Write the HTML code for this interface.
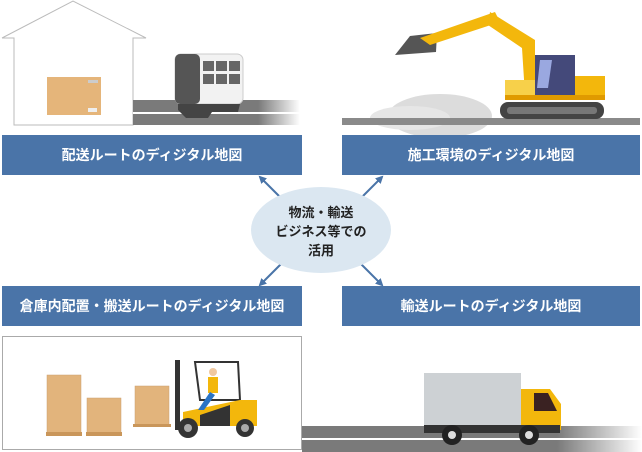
<!DOCTYPE html>
<html><head><meta charset="utf-8"><style>
html,body{margin:0;padding:0;background:#fff;}
body{width:642px;height:452px;position:relative;overflow:hidden;font-family:"Liberation Sans","Noto Sans CJK JP",sans-serif;}
.b{position:absolute;background:#4a74a8;color:#fff;font-size:14px;font-weight:bold;display:flex;align-items:center;justify-content:center;height:40px;}
</style></head><body>
<svg width="642" height="452" style="position:absolute;left:0;top:0">
<defs>
<linearGradient id="fade" x1="0" x2="1"><stop offset="0.75" stop-color="#7a7a7a"/><stop offset="1" stop-color="#7a7a7a" stop-opacity="0"/></linearGradient>
<marker id="ar" markerWidth="8" markerHeight="8" refX="6" refY="4" orient="auto" markerUnits="userSpaceOnUse"><path d="M0,0 L8,4 L0,8 Z" fill="#4a74a8"/></marker>
</defs>
<polyline points="2,38 73,1 146,38 133,38 133,125 14,125 14,38 2,38" fill="none" stroke="#bbb" stroke-width="1"/>
<rect x="47" y="77" width="54" height="38" fill="#e5b57a"/>
<rect x="88" y="80" width="10" height="3" fill="#ccc"/><rect x="88" y="108" width="9" height="4" fill="#eee"/>
<rect x="133" y="100" width="167" height="25" fill="url(#fade)"/>
<rect x="133" y="112" width="167" height="2" fill="#fff"/>
<rect x="175" y="54" width="68" height="50" rx="6" fill="#f2f2f2" stroke="#ccc"/>
<rect x="175" y="54" width="25" height="50" rx="5" fill="#555"/>
<g fill="#666"><rect x="203" y="61" width="11" height="10"/><rect x="216" y="61" width="11" height="10"/><rect x="229" y="61" width="11" height="10"/><rect x="203" y="74" width="11" height="10"/><rect x="216" y="74" width="11" height="10"/><rect x="229" y="74" width="11" height="10"/></g>
<path d="M178,104 L240,104 L238,112 L212,112 L208,118 L186,118 L178,110Z" fill="#444"/>
<ellipse cx="440" cy="116" rx="52" ry="22" fill="#dcdcdc"/>
<ellipse cx="410" cy="118" rx="40" ry="12" fill="#e6e6e6"/>
<rect x="342" y="118" width="298" height="7" fill="#8a8a8a"/>
<path d="M410,36 L437,33 L436,52 L395,55Z" fill="#555"/>
<path d="M420,38 L495,12 L500,22 L430,45Z" fill="#f3b70c"/>
<path d="M490,12 L535,40 L535,95 L525,95 L522,48 L488,25Z" fill="#f3b70c"/>
<rect x="505" y="80" width="30" height="20" fill="#f7d04a"/>
<rect x="535" y="55" width="40" height="40" fill="#44497a"/>
<path d="M540,60 L552,60 L548,88 L537,88Z" fill="#9aa8e0"/>
<rect x="575" y="76" width="30" height="22" fill="#f3b70c"/>
<rect x="505" y="95" width="100" height="5" fill="#e09a00"/>
<rect x="500" y="102" width="104" height="17" rx="8" fill="#444"/>
<rect x="507" y="107" width="90" height="7" rx="3" fill="#777"/>
<line x1="281" y1="198" x2="260" y2="177" stroke="#4a74a8" stroke-width="2" marker-end="url(#ar)"/>
<line x1="361" y1="198" x2="382" y2="177" stroke="#4a74a8" stroke-width="2" marker-end="url(#ar)"/>
<line x1="281" y1="264" x2="260" y2="285" stroke="#4a74a8" stroke-width="2" marker-end="url(#ar)"/>
<line x1="361" y1="264" x2="382" y2="285" stroke="#4a74a8" stroke-width="2" marker-end="url(#ar)"/>
<ellipse cx="321" cy="230" rx="70" ry="43" fill="#dbe7f1"/>
<g font-size="13" font-weight="bold" text-anchor="middle" fill="#222" font-family="Liberation Sans,Noto Sans CJK JP,sans-serif">
<text x="321" y="217">物流・輸送</text>
<text x="321" y="236">ビジネス等での</text>
<text x="321" y="255">活用</text>
</g>
<rect x="2.5" y="336.5" width="299" height="113" fill="#fff" stroke="#aaa"/>
<g fill="#e2b47c" stroke="#caa070" stroke-width="0.5">
<rect x="47" y="375" width="34" height="58"/><rect x="87" y="398" width="34" height="35"/><rect x="135" y="386" width="34" height="39"/>
</g>
<g fill="#c9965a"><rect x="46" y="432" width="36" height="4"/><rect x="86" y="432" width="36" height="4"/><rect x="133" y="424" width="38" height="3"/></g>
<rect x="175" y="360" width="5" height="70" fill="#333"/>
<path d="M195,362 L238,362 L240,400 L200,400Z" fill="none" stroke="#333" stroke-width="2"/>
<path d="M183,412 L240,400 L257,400 L257,426 L183,426Z" fill="#f3b70c"/>
<path d="M200,415 L230,405 L230,426 L200,426Z" fill="#333"/>
<circle cx="213" cy="372" r="4" fill="#f0c8a0"/><rect x="208" y="377" width="10" height="16" fill="#f3b70c"/><path d="M210,392 L198,410 L204,410 L215,395Z" fill="#2b74c5"/>
<circle cx="188" cy="428" r="10" fill="#333"/><circle cx="188" cy="428" r="4" fill="#aaa"/>
<circle cx="245" cy="428" r="9" fill="#333"/><circle cx="245" cy="428" r="4" fill="#aaa"/>
<rect x="302" y="426" width="340" height="26" fill="url(#fade)"/>
<rect x="302" y="438" width="340" height="2" fill="#fff"/>
<rect x="424" y="373" width="97" height="54" fill="#cdd1d4"/>
<path d="M521,389 L550,389 L561,404 L561,430 L521,430Z" fill="#f3b70c"/>
<path d="M534,393 L548,393 L557,411 L534,411Z" fill="#3a2222"/>
<rect x="424" y="425" width="136" height="8" fill="#333"/>
<circle cx="452" cy="435" r="10" fill="#222"/><circle cx="452" cy="435" r="4" fill="#ddd"/>
<circle cx="529" cy="435" r="10" fill="#222"/><circle cx="529" cy="435" r="4" fill="#ddd"/>
</svg>
<div class="b" style="left:2px;top:135px;width:300px">配送ルートのディジタル地図</div>
<div class="b" style="left:342px;top:135px;width:298px">施工環境のディジタル地図</div>
<div class="b" style="left:2px;top:286px;width:300px">倉庫内配置・搬送ルートのディジタル地図</div>
<div class="b" style="left:342px;top:286px;width:298px">輸送ルートのディジタル地図</div>
</body></html>
